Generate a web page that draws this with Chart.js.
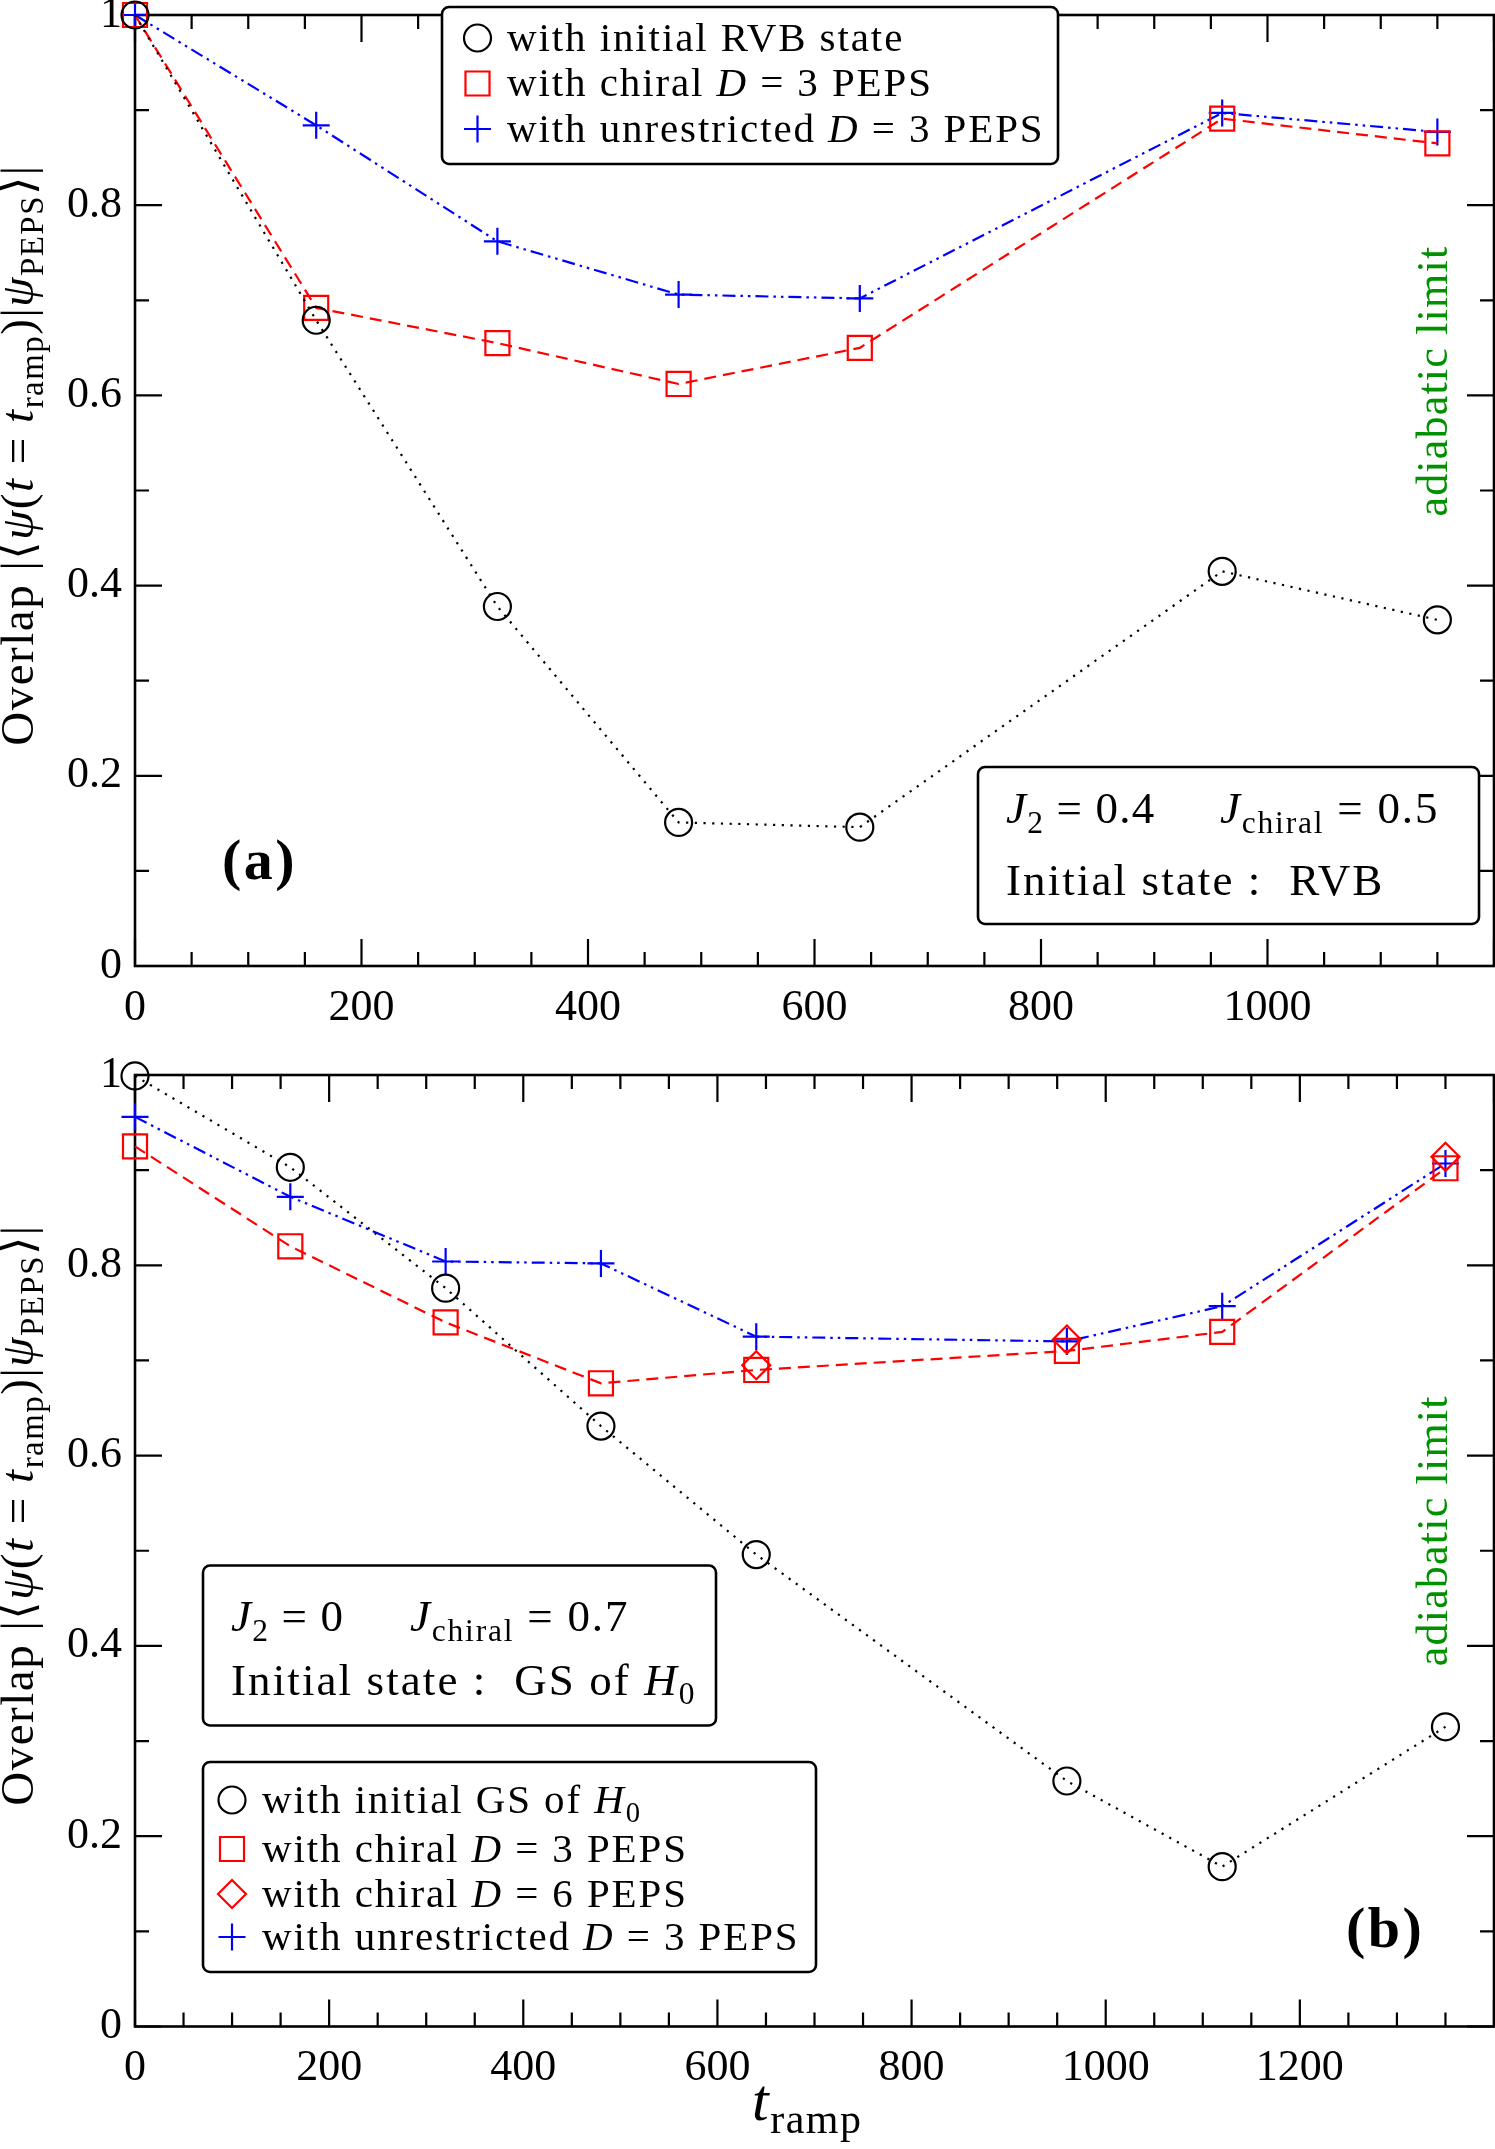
<!DOCTYPE html>
<html>
<head>
<meta charset="utf-8">
<script src="https://cdn.jsdelivr.net/npm/chart.js@4.4.1/dist/chart.umd.min.js"></script>
<style>
html, body { margin: 0; padding: 0; background: #fff; }
#wrap { position: relative; width: 1495px; height: 2149px; }
#top { position: absolute; left: 0; top: 0; }
#bot { position: absolute; left: 0; top: 1040px; }
</style>
</head>
<body>
<div id="wrap">
  <canvas id="top" width="1495" height="1040"></canvas>
  <canvas id="bot" width="1495" height="1109"></canvas>
</div>
<script>
// panel (a) : J2 = 0.4, Jchiral = 0.5, start from RVB
const tA = [0, 160, 320, 480, 640, 960, 1150];
const rvbA = [1.0, 0.679, 0.378, 0.151, 0.146, 0.415, 0.364];
const chiral3A = [1.0, 0.692, 0.655, 0.612, 0.650, 0.891, 0.865];
const unrestr3A = [1.0, 0.884, 0.762, 0.706, 0.702, 0.897, 0.877];
const labelsA = ['with initial RVB state', 'with chiral D = 3 PEPS', 'with unrestricted D = 3 PEPS'];

// panel (b) : J2 = 0, Jchiral = 0.7, start from GS of H0
const tB = [0, 160, 320, 480, 640, 960, 1120, 1350];
const gsB = [0.999, 0.903, 0.776, 0.631, 0.496, 0.258, 0.168, 0.315];
const chiral3B = [0.925, 0.820, 0.740, 0.676, 0.690, 0.710, 0.730, 0.902];
const tB6 = [640, 960, 1350];
const chiral6B = [0.695, 0.722, 0.914];
const unrestr3B = [0.956, 0.872, 0.804, 0.802, 0.725, 0.720, 0.757, 0.907];
const labelsB = ['with initial GS of H₀', 'with chiral D = 3 PEPS', 'with chiral D = 6 PEPS', 'with unrestricted D = 3 PEPS'];

// tick labels
const xTickLabelsA = [0, 200, 400, 600, 800, 1000];
const xTickLabelsB = [0, 200, 400, 600, 800, 1000, 1200];
const yTickLabels = ['0', '0.2', '0.4', '0.6', '0.8', '1'];

const SERIF = '"Liberation Serif", "DejaVu Serif", serif';
const GREEN = 'rgb(0,145,0)';

function pts(xs, ys) {
  return xs.map((x, i) => ({ x: x, y: ys[i] }));
}

// dataset styles
function circles(label, data) {
  return { label, data, showLine: true, clip: false,
    borderColor: '#000', borderWidth: 2.2, borderDash: [2.2, 6.5],
    pointStyle: 'circle', pointRadius: 13.5, pointBorderWidth: 2.2,
    pointBorderColor: '#000', pointBackgroundColor: 'rgba(0,0,0,0)' };
}
function squares(label, data) {
  return { label, data, showLine: true, clip: false,
    borderColor: '#f00', borderWidth: 2.2, borderDash: [12, 7],
    pointStyle: 'rect', pointRadius: 17, pointBorderWidth: 2.2,
    pointBorderColor: '#f00', pointBackgroundColor: 'rgba(0,0,0,0)' };
}
function diamonds(label, data) {
  return { label, data, showLine: false, clip: false,
    pointStyle: 'rectRot', pointRadius: 14, pointBorderWidth: 2.2,
    pointBorderColor: '#f00', pointBackgroundColor: 'rgba(0,0,0,0)', borderColor: '#f00' };
}
function pluses(label, data) {
  return { label, data, showLine: true, clip: false,
    borderColor: '#00f', borderWidth: 2.2, borderDash: [13, 5, 2.5, 5, 2.5, 5],
    pointStyle: 'cross', pointRadius: 13.5, pointBorderWidth: 2.2,
    pointBorderColor: '#00f', pointBackgroundColor: 'rgba(0,0,0,0)' };
}

// --- text helpers (math-like rich text) ---
function segFont(f, size) {
  const sz = f.includes('s') ? size * 0.7 : size;
  return (f.includes('i') ? 'italic ' : '') + (f.includes('b') ? 'bold ' : '') + sz + 'px ' + SERIF;
}
function segWidth(ctx, t, sp) {
  // add the spacing ourselves, measureText may leave it out
  ctx.letterSpacing = '0px';
  return ctx.measureText(t).width + sp * t.length;
}
function richWidth(ctx, segs, size, sp) {
  let w = 0;
  for (const [t, f = ''] of segs) {
    ctx.font = segFont(f, size);
    w += segWidth(ctx, t, sp);
  }
  return w;
}
function drawRich(ctx, segs, x, y, size, align, sp) {
  sp = sp || 0;
  let cx = align === 'center' ? x - richWidth(ctx, segs, size, sp) / 2 : x;
  ctx.textAlign = 'left';
  ctx.textBaseline = 'alphabetic';
  for (const [t, f = ''] of segs) {
    ctx.font = segFont(f, size);
    const w = segWidth(ctx, t, sp);
    ctx.letterSpacing = sp + 'px';
    const dy = f.includes('s') ? size * 0.22 : 0;
    ctx.fillText(t, cx, y + dy);
    cx += w;
  }
  ctx.letterSpacing = '0px';
}
// legend labels: lone D / H are math symbols, ₀ is a subscript
function parseLabel(s) {
  const out = [];
  s.split(/(\b[DH]\b|₀)/).forEach(p => {
    if (!p) return;
    if (p === '₀') out.push(['0', 's']);
    else if (/^[DH]$/.test(p)) out.push([p, 'i']);
    else out.push([p, '']);
  });
  return out;
}

function marker(ctx, style, x, y, r, color, lw) {
  ctx.save();
  ctx.strokeStyle = color;
  ctx.lineWidth = lw;
  ctx.setLineDash([]);
  ctx.beginPath();
  if (style === 'circle') ctx.arc(x, y, r, 0, Math.PI * 2);
  else if (style === 'rect') { const h = r * Math.SQRT1_2; ctx.rect(x - h, y - h, 2 * h, 2 * h); }
  else if (style === 'rectRot') { ctx.moveTo(x - r, y); ctx.lineTo(x, y - r); ctx.lineTo(x + r, y); ctx.lineTo(x, y + r); ctx.closePath(); }
  else if (style === 'cross') { ctx.moveTo(x - r, y); ctx.lineTo(x + r, y); ctx.moveTo(x, y - r); ctx.lineTo(x, y + r); }
  ctx.stroke();
  ctx.restore();
}

function box(ctx, x, y, w, h) {
  ctx.save();
  ctx.beginPath();
  if (ctx.roundRect) ctx.roundRect(x, y, w, h, 7); else ctx.rect(x, y, w, h);
  ctx.fillStyle = '#fff';
  ctx.fill();
  ctx.lineWidth = 2.6;
  ctx.strokeStyle = '#000';
  ctx.setLineDash([]);
  ctx.stroke();
  ctx.restore();
}

const yTitle = [['Overlap |⟨', ''], ['ψ', 'i'], ['(', ''], ['t', 'i'], [' = ', ''], ['t', 'i'], ['ramp', 's'],
  [')|', ''], ['ψ', 'i'], ['PEPS', 's'], ['⟩|', '']];

// frame + inward ticks, under the data
const framePlugin = {
  id: 'frame',
  beforeDatasetsDraw(chart) {
    const ctx = chart.ctx, a = chart.chartArea, xs = chart.scales.x, ys = chart.scales.y;
    ctx.save();
    ctx.strokeStyle = '#000';
    ctx.lineWidth = 2.2;
    ctx.setLineDash([]);
    ctx.beginPath();
    xs.ticks.forEach(t => {
      const px = xs.getPixelForValue(t.value);
      const L = Math.round(t.value) % 200 === 0 ? 27 : 14;
      ctx.moveTo(px, a.bottom); ctx.lineTo(px, a.bottom - L);
      ctx.moveTo(px, a.top); ctx.lineTo(px, a.top + L);
    });
    ys.ticks.forEach(t => {
      const py = ys.getPixelForValue(t.value);
      const L = Math.round(t.value * 10) % 2 === 0 ? 27 : 14;
      ctx.moveTo(a.left, py); ctx.lineTo(a.left + L, py);
      ctx.moveTo(a.right, py); ctx.lineTo(a.right - L, py);
    });
    ctx.stroke();
    ctx.lineWidth = 2.6;
    ctx.strokeRect(a.left, a.top, a.right - a.left, a.bottom - a.top);
    ctx.restore();
  }
};

// legend, boxes and labels, over the data
const decorPlugin = {
  id: 'decor',
  afterDatasetsDraw(chart, args, P) {
    const ctx = chart.ctx, a = chart.chartArea, ys = chart.scales.y;
    ctx.save();
    ctx.fillStyle = '#000';

    // legend from the datasets
    const L = P.legend;
    box(ctx, L.x, L.y, L.w, L.h);
    chart.data.datasets.forEach((ds, i) => {
      const cy = L.rows[i];
      marker(ctx, ds.pointStyle, L.mx, cy, ds.pointRadius, ds.pointBorderColor, 2.2);
      ctx.fillStyle = '#000';
      drawRich(ctx, parseLabel(ds.label), L.tx, cy + 12.5, 41, 'left', 1.9);
    });

    // parameter box
    const I = P.info;
    box(ctx, I.x, I.y, I.w, I.h);
    ctx.fillStyle = '#000';
    drawRich(ctx, I.line1a, I.tx, I.b1, 45, 'left', 1.2);
    drawRich(ctx, I.line1b, I.tx2, I.b1, 45, 'left', 1.8);
    drawRich(ctx, I.line2, I.tx, I.b2, 45, 'left', 2.1);

    // panel tag
    drawRich(ctx, [[P.tag, 'b']], P.tagX, P.tagY, 58, 'left', 2.5);

    // adiabatic limit (rotated, green)
    ctx.save();
    ctx.translate(a.right - 47, ys.getPixelForValue(P.adiaY));
    ctx.rotate(-Math.PI / 2);
    ctx.fillStyle = GREEN;
    drawRich(ctx, [['adiabatic limit', '']], 0, 0, 44, 'center', 1.2);
    ctx.restore();

    // y axis title
    ctx.save();
    ctx.translate(33, a.top + P.yTitleOff);
    ctx.rotate(-Math.PI / 2);
    ctx.fillStyle = '#000';
    drawRich(ctx, yTitle, 0, 0, 47, 'center', 1.5);
    ctx.restore();

    // x axis title
    if (P.xTitle) {
      drawRich(ctx, [['t', 'i'], ['ramp', 's']], P.xTitle.x, P.xTitle.y, 60, 'left', 1.5);
    }
    ctx.restore();
  }
};

function makeOptions(P) {
  return {
    responsive: false,
    animation: false,
    layout: { autoPadding: false, padding: { top: P.top, right: 1, left: 0, bottom: 0 } },
    plugins: { legend: { display: false }, tooltip: { enabled: false }, decor: P },
    scales: {
      x: {
        type: 'linear', min: 0, max: P.xMax,
        grid: { display: false, drawTicks: false }, border: { display: false },
        ticks: {
          stepSize: 50, autoSkip: false, maxRotation: 0, padding: 0, color: '#000',
          font: { family: SERIF, size: 44, lineHeight: '84px' },
          callback: v => P.xLabels.includes(v) ? String(v) : ''
        },
        afterFit: s => { s.height = P.xHeight; s.paddingLeft = 0; s.paddingRight = 0; }
      },
      y: {
        type: 'linear', min: 0, max: 1,
        grid: { display: false, drawTicks: false }, border: { display: false },
        ticks: {
          stepSize: 0.1, autoSkip: false, padding: 13, color: '#000',
          font: { family: SERIF, size: 44 },
          callback: v => { const k = Math.round(v * 10); return k % 2 === 0 ? yTickLabels[k / 2] : ''; }
        },
        afterFit: s => { s.width = 135; s.paddingTop = 0; s.paddingBottom = 0; s.paddingLeft = 0; s.paddingRight = 0; }
      }
    }
  };
}

const panelA = {
  top: 15, xMax: 1200, xHeight: 74, xLabels: xTickLabelsA,
  legend: { x: 442, y: 7, w: 616, h: 157, mx: 477.5, tx: 507, rows: [38, 83.5, 129] },
  info: { x: 978, y: 767, w: 501, h: 157, tx: 1006, tx2: 1220, b1: 823, b2: 894.5,
    line1a: [['J', 'i'], ['2', 's'], [' = 0.4', '']],
    line1b: [['J', 'i'], ['chiral', 's'], [' = 0.5', '']],
    line2: [['Initial state :  RVB', '']] },
  tag: '(a)', tagX: 222, tagY: 879,
  adiaY: 0.615, yTitleOff: 440
};

const panelB = {
  top: 35, xMax: 1400, xHeight: 122.5, xLabels: xTickLabelsB,
  legend: { x: 203, y: 722, w: 613, h: 210, mx: 232, tx: 262, rows: [760, 809, 854, 897] },
  info: { x: 203, y: 525.5, w: 513, h: 160, tx: 231, tx2: 410, b1: 591, b2: 654.5,
    line1a: [['J', 'i'], ['2', 's'], [' = 0', '']],
    line1b: [['J', 'i'], ['chiral', 's'], [' = 0.7', '']],
    line2: [['Initial state :  GS of ', ''], ['H', 'i'], ['0', 's']] },
  tag: '(b)', tagX: 1346, tagY: 907,
  adiaY: 0.521, yTitleOff: 440,
  xTitle: { x: 752, y: 1080 }
};

new Chart(document.getElementById('top'), {
  type: 'scatter',
  data: {
    datasets: [
      circles(labelsA[0], pts(tA, rvbA)),
      squares(labelsA[1], pts(tA, chiral3A)),
      pluses(labelsA[2], pts(tA, unrestr3A))
    ]
  },
  options: makeOptions(panelA),
  plugins: [framePlugin, decorPlugin]
});

new Chart(document.getElementById('bot'), {
  type: 'scatter',
  data: {
    datasets: [
      circles(labelsB[0], pts(tB, gsB)),
      squares(labelsB[1], pts(tB, chiral3B)),
      diamonds(labelsB[2], pts(tB6, chiral6B)),
      pluses(labelsB[3], pts(tB, unrestr3B))
    ]
  },
  options: makeOptions(panelB),
  plugins: [framePlugin, decorPlugin]
});
</script>
</body>
</html>
